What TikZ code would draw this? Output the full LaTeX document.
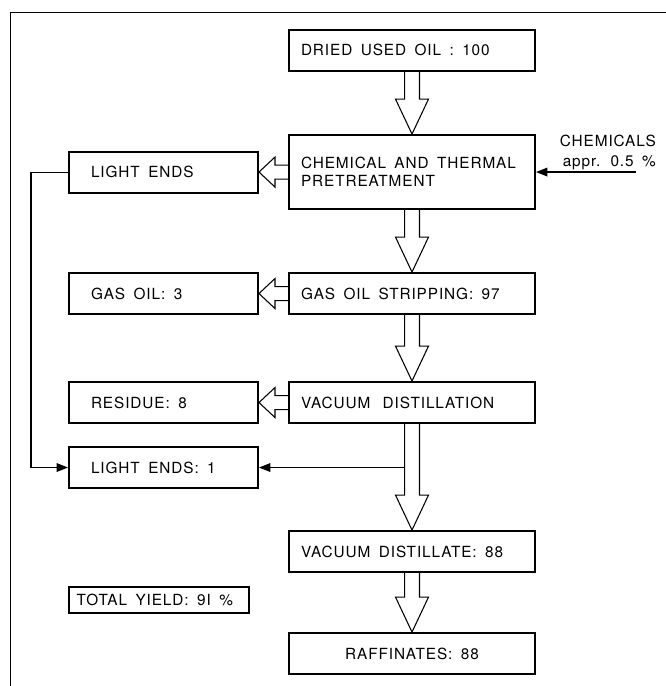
\documentclass[tikz,border=0pt]{standalone}
\usepackage{fontspec}
\newfontfamily\boxfont{TeX Gyre Heros}[LetterSpace=6]
\newcommand{\boxtext}{\boxfont\fontsize{11.5}{13.75}\selectfont\spaceskip=0.55em\relax}
\usetikzlibrary{positioning,calc,arrows.meta}

\begin{document}
\begin{tikzpicture}[x=0.75pt,y=-0.75pt,
            process node/.style={draw,line width=1.5pt,font=\boxtext,
              minimum height=30.75pt,text width=166.5pt,inner xsep=9pt,align=flush left},
            side node/.style={draw,line width=1.5pt,font=\boxtext,
              minimum height=30.75pt,text width=108.75pt,inner xsep=16.5pt,align=flush left},
            yield node/.style={draw,line width=1.5pt,font=\boxtext,
              minimum height=19.5pt,text width=123.5pt,inner xsep=5.75pt,align=flush left},
            block arrow/.style={draw,line width=0.8pt},
            feed line/.style={draw,line width=0.8pt,-{Triangle[length=8.5pt,width=6.5pt]}}]

        \useasboundingbox (0,0) rectangle (666,686);
        \draw[line width=0.7pt] (10,686) |- (666,12);

        % Define process steps
        \node[process node] (dried) at (412,50) {DRIED USED OIL : 100};
        \node[process node,minimum height=55.5pt] (pretreat) [below=46.9pt of dried] {CHEMICAL AND THERMAL\\PRETREATMENT};
        \node[process node] (gasstrip) [below=46.5pt of pretreat] {GAS OIL STRIPPING: 97};
        \node[process node] (vacdist) [below=49.5pt of gasstrip] {VACUUM\hspace{0.25em} DISTILLATION};
        \node[process node] (distillate) [below=79.5pt of vacdist] {VACUUM DISTILLATE: 88};
        \node[process node,align=flush center] (raffinate) [below=44.25pt of distillate] {RAFFINATES: 88\hspace*{1.5em}};

        % Define side streams
        \node[side node] (lightends) [left=21.75pt of pretreat] {LIGHT ENDS};
        \node[side node] (gasoil) [left=21.75pt of gasstrip] {GAS OIL: 3};
        \node[side node] (residue) [left=21.75pt of vacdist] {RESIDUE: 8};
        \node[side node] (lightends1) [below=16.5pt of residue] {LIGHT ENDS: 1};
        \node[yield node] (yield) [below right=72.75pt and 0pt of lightends1.south west] {TOTAL YIELD: 9I \%};

        \coordinate[right=75pt of pretreat.east] (chem);
        \node[anchor=south east,align=flush right,inner sep=0pt,font=\boxtext\fontsize{11.5}{15}\selectfont]
            (chemtext) at ($(chem)+(15pt,1.5pt)$) {CHEMICALS\\appr. 0.5 \%};

        % Draw main flow
        \foreach \from/\to in {dried/pretreat,pretreat/gasstrip,gasstrip/vacdist,vacdist/distillate,distillate/raffinate}
            \draw[block arrow] let \p1=(\from.south), \p2=(\to.north) in
                (\x1-5.6pt,\y1) -- (\x1-5.6pt,\y2+26.25pt) -- (\x1-12.4pt,\y2+26.25pt) -- (\x2,\y2)
                -- (\x1+12.4pt,\y2+26.25pt) -- (\x1+5.6pt,\y2+26.25pt) -- (\x1+5.6pt,\y1);

        \foreach \from/\to in {pretreat/lightends,gasstrip/gasoil,vacdist/residue}
            \draw[block arrow] let \p1=(\from.west), \p2=(\to.east) in
                (\x1,\y1+5.25pt) -- (\x2+12pt,\y1+5.25pt) -- (\x2+12pt,\y1+11.25pt) -- (\x2,\y1)
                -- (\x2+12pt,\y1-11.25pt) -- (\x2+12pt,\y1-5.25pt) -- (\x1,\y1-5.25pt);

        % Draw feeds
        \coordinate (tap) at ($(vacdist.south)+(-5.6pt,0)$);
        \draw[feed line,line width=1pt] (chem) -- (pretreat.east);
        \draw[feed line] (tap |- lightends1.east) -- (lightends1.east);
        \draw[feed line] (lightends.west) -- ++(-27.75pt,0) |- (lightends1.west);

\end{tikzpicture}
\end{document}
